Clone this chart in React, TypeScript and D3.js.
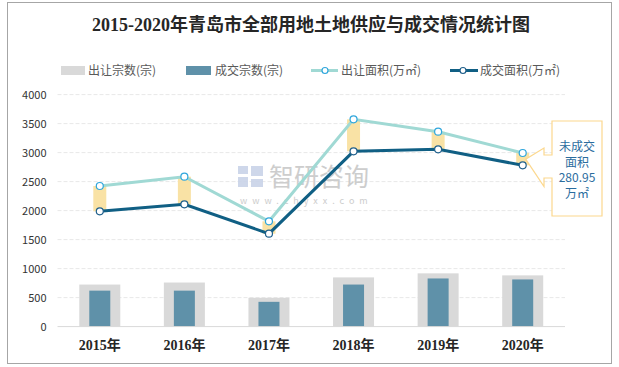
import * as React from "react";
import * as d3 from "d3";

const years = ["2015年", "2016年", "2017年", "2018年", "2019年", "2020年"];
const supplyCount = [725, 760, 497, 848, 918, 883]; // 出让宗数(宗)
const dealCount = [620, 620, 427, 725, 830, 813]; // 成交宗数(宗)
const supplyArea = [2424, 2585, 1815, 3574, 3360, 2993]; // 出让面积(万㎡)
const dealArea = [1988, 2108, 1602, 3022, 3057, 2781]; // 成交面积(万㎡)
const yTicks = [0, 500, 1000, 1500, 2000, 2500, 3000, 3500, 4000];
const noteLines = ["未成交", "面积", "280.95", "万㎡"];

const W = 619, H = 367;
const serif = "'Liberation Serif', 'DejaVu Serif', 'Noto Sans CJK SC', serif";
const sans = "'Noto Sans CJK SC', 'Noto Sans', sans-serif";

export default function App() {
  const x = d3.scaleBand().domain(years).range([57.5, 565]);
  const y = d3.scaleLinear().domain([0, 4000]).range([326.6, 94.6]);
  const cx = (d: string) => x(d)! + x.bandwidth() / 2;

  const line = d3.line<number>()
    .x((d, i) => cx(years[i]))
    .y(d => y(d));

  const last = years.length - 1;
  const tipX = cx(years[last]) + 3, tipY = y((supplyArea[last] + dealArea[last]) / 2);
  const bx = 552, by = 121, bw = 50, bh = 95;
  const callout = [
    [bx, by], [bx + bw, by], [bx + bw, by + bh], [bx, by + bh], [bx, 178],
    [544, 178], [544, 186.5], [tipX, tipY], [544, 148], [544, 155], [bx, 155]
  ];

  return (
    <svg width={W} height={H} style={{position: "absolute", left: 0, top: 0, background: "#fff"}}>
      <rect x={7.5} y={2.5} width={604} height={361} fill="#fff" stroke="#a6a6a6" />

      <text x={311} y={31} textAnchor="middle" fontFamily={serif} fontWeight="bold"
            fontSize={18} fill="#262626">2015-2020年青岛市全部用地土地供应与成交情况统计图</text>

      {/* legend */}
      <g fontFamily={sans} fontSize={12} fill="#595959">
        <rect x={61} y={66} width={24} height={9} fill="#d9d9d9" />
        <text x={88} y={75}>出让宗数(宗)</text>
        <rect x={186} y={66} width={25} height={9} fill="#5f91a9" />
        <text x={215} y={75}>成交宗数(宗)</text>
        <line x1={311} x2={338} y1={70.5} y2={70.5} stroke="#a0d9d4" strokeWidth={3} />
        <circle cx={325} cy={70.5} r={3} fill="#fff" stroke="#2fa6dc" strokeWidth={1.2} />
        <text x={341} y={75}>出让面积(万㎡)</text>
        <line x1={450} x2={478} y1={70.5} y2={70.5} stroke="#105f84" strokeWidth={3} />
        <circle cx={463} cy={70.5} r={3} fill="#fff" stroke="#1f5f8b" strokeWidth={1.2} />
        <text x={480} y={75}>成交面积(万㎡)</text>
      </g>

      {/* grid and y axis */}
      {yTicks.map(t => (
        <g key={t}>
          {t > 0 && <line x1={57.5} x2={565} y1={y(t)} y2={y(t)} stroke="#e8e8e8" strokeDasharray="4 2" />}
          <text x={46.5} y={y(t) + 4} textAnchor="end" fontFamily={sans} fontSize={11} fill="#333">{t}</text>
        </g>
      ))}

      {/* watermark */}
      <g opacity={0.9}>
        <rect x={238} y={166} width={10} height={8} fill="#c9d3e8" />
        <rect x={238} y={177} width={10} height={10} fill="#c9d3e8" />
        <rect x={251} y={166} width={12} height={10} fill="#c9d3e8" />
        <rect x={251} y={179} width={12} height={8} fill="#c9d3e8" />
        <text x={269} y={186} fontFamily={sans} fontSize={25} fill="#c8c8c8">智研咨询</text>
        <text x={240} y={204} fontFamily={sans} fontSize={9} fill="#c8c8c8" letterSpacing={5}>www.chyxx.com</text>
      </g>

      {/* bars */}
      {years.map((d, i) => (
        <g key={d}>
          <rect x={cx(d) - 20.5} width={41} y={y(supplyCount[i])} height={y(0) - y(supplyCount[i])} fill="#d9d9d9" />
          <rect x={cx(d) - 10.5} width={21} y={y(dealCount[i])} height={y(0) - y(dealCount[i])} fill="#5f91a9" />
        </g>
      ))}
      <line x1={57.5} x2={565} y1={y(0)} y2={y(0)} stroke="#d9d9d9" />

      {/* gap bars */}
      {years.map((d, i) => (
        <rect key={d} x={cx(d) - 6.5} width={13} y={y(supplyArea[i])}
              height={y(dealArea[i]) - y(supplyArea[i])} fill="#f9e2a5" />
      ))}

      <path d={line(supplyArea)!} fill="none" stroke="#a0d9d4" strokeWidth={3} />
      <path d={line(dealArea)!} fill="none" stroke="#105f84" strokeWidth={3} />
      {years.map((d, i) => (
        <g key={d}>
          <circle cx={cx(d)} cy={y(supplyArea[i])} r={3.5} fill="#fff" stroke="#2fa6dc" strokeWidth={1.2} />
          <circle cx={cx(d)} cy={y(dealArea[i])} r={3.5} fill="#fff" stroke="#1f5f8b" strokeWidth={1.2} />
        </g>
      ))}

      {/* callout */}
      <path d={"M" + callout.map(p => p.join(",")).join("L") + "Z"} fill="#fff" stroke="#fcd88e" strokeWidth={1.2} />
      <g fontFamily={sans} fontSize={12} fill="#2b6c9e" textAnchor="middle">
        {noteLines.map((t, i) => (
          <text key={i} x={577} y={151 + i * 15.5}>{t}</text>
        ))}
      </g>

      {/* x labels */}
      {years.map(d => (
        <text key={d} x={cx(d)} y={350} textAnchor="middle" fontFamily={serif} fontWeight="bold"
              fontSize={14} fill="#262626">{d}</text>
      ))}
    </svg>
  );
}
